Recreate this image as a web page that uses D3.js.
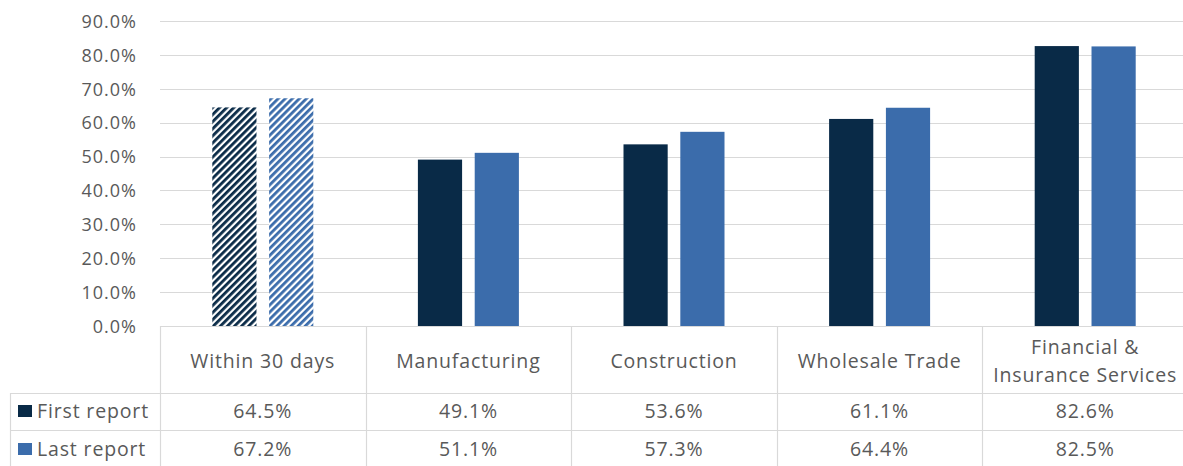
<!DOCTYPE html>
<html>
<head>
<meta charset="utf-8">
<script src="https://cdn.jsdelivr.net/npm/d3@7"></script>
<style>
  html, body { margin: 0; padding: 0; background: #fff; }
  svg { display: block; }
  text { font-family: "Open Sans", "Noto Sans", sans-serif; fill: #595959; }
</style>
</head>
<body>
<svg id="chart" width="1183" height="466"></svg>
<script>
// Chart data
const categories = ["Within 30 days", "Manufacturing", "Construction", "Wholesale Trade", "Financial & Insurance Services"];
const categoryLines = [["Within 30 days"], ["Manufacturing"], ["Construction"], ["Wholesale Trade"], ["Financial &", "Insurance Services"]];
const seriesNames = ["First report", "Last report"];
const firstReport = [64.5, 49.1, 53.6, 61.1, 82.6];
const lastReport = [67.2, 51.1, 57.3, 64.4, 82.5];
const yTicks = [0, 10, 20, 30, 40, 50, 60, 70, 80, 90];
const hatchedCategories = ["Within 30 days"];

const colors = ["#092a47", "#3b6cab"];
const gridColor = "#d9d9d9";
const tableFont = 19.5;
const tableSpacing = 0.85;

const svg = d3.select("#chart");
const W = 1183, H = 466;
const plotLeft = 160, plotRight = 1188;
const yTop = 21, yZero = 326;
const headerBottom = 393, row1Bottom = 430, tableBottom = 470;
const legendLeft = 10;

const x = d3.scaleBand().domain(categories).range([plotLeft, plotRight]).paddingInner(0).paddingOuter(0);
const y = d3.scaleLinear().domain([0, 90]).range([yZero, yTop]);
const groupWidth = 101;
const xs = d3.scaleBand().domain(seriesNames).range([0, groupWidth]).paddingInner(0.2222).paddingOuter(0);

// Hatch patterns for the highlighted category
const defs = svg.append("defs");
colors.forEach((c, i) => {
  const p = defs.append("pattern")
    .attr("id", "hatch" + i)
    .attr("patternUnits", "userSpaceOnUse")
    .attr("width", 5).attr("height", 5)
    .attr("patternTransform", "rotate(45)");
  p.append("rect").attr("width", 5).attr("height", 5).attr("fill", "#fff");
  p.append("rect").attr("width", 2.8).attr("height", 5).attr("fill", c);
});

// Gridlines
svg.append("g")
  .selectAll("line")
  .data(yTicks.filter(t => t > 0))
  .join("line")
  .attr("x1", plotLeft).attr("x2", W)
  .attr("y1", d => Math.round(y(d)) + 0.5).attr("y2", d => Math.round(y(d)) + 0.5)
  .attr("stroke", gridColor).attr("stroke-width", 1.2);

// Y axis labels
const yAxis = d3.axisLeft(y).tickValues(yTicks).tickSize(0).tickPadding(0)
  .tickFormat(d => d3.format(".1f")(d) + "%");
const yg = svg.append("g").attr("transform", "translate(137,0)").call(yAxis);
yg.select(".domain").remove();
yg.selectAll("text")
  .style("font-family", "\"Open Sans\", sans-serif")
  .style("letter-spacing", "1px")
  .attr("font-size", 18).attr("fill", "#595959").attr("dy", "0.35em");

// Bars
const seriesData = [firstReport, lastReport];
seriesData.forEach((vals, si) => {
  svg.append("g")
    .selectAll("rect")
    .data(categories.map((c, i) => ({ c, v: vals[i] })))
    .join("rect")
    .attr("x", d => x(d.c) + (x.bandwidth() - groupWidth) / 2 + xs(seriesNames[si]))
    .attr("width", xs.bandwidth())
    .attr("y", d => y(d.v))
    .attr("height", d => yZero - y(d.v))
    .attr("fill", d => hatchedCategories.includes(d.c) ? `url(#hatch${si})` : colors[si]);
});

// Data table
const tbl = svg.append("g");
const line = (x1, y1, x2, y2) => tbl.append("line")
  .attr("x1", x1).attr("y1", y1).attr("x2", x2).attr("y2", y2)
  .attr("stroke", gridColor).attr("stroke-width", 1.2);

line(plotLeft, yZero + 0.5, W, yZero + 0.5);
line(legendLeft, headerBottom + 0.5, W, headerBottom + 0.5);
line(legendLeft, row1Bottom + 0.5, W, row1Bottom + 0.5);
line(legendLeft + 0.5, headerBottom, legendLeft + 0.5, tableBottom);
categories.forEach(c => line(Math.round(x(c)) + 0.5, yZero, Math.round(x(c)) + 0.5, tableBottom));

const cellText = (xPos, yPos, t, anchor) => tbl.append("text")
  .attr("x", xPos).attr("y", yPos).attr("dy", "0.35em")
  .attr("text-anchor", anchor)
  .attr("font-size", tableFont)
  .style("letter-spacing", tableSpacing + "px")
  .text(t);

// Category header cells
categories.forEach((c, i) => {
  const lines = categoryLines[i];
  const cx = x(c) + x.bandwidth() / 2;
  const lh = 28;
  const cy = 361;
  lines.forEach((t, j) => cellText(cx, cy + (j - (lines.length - 1) / 2) * lh, t, "middle"));
});

// Value rows with legend keys
const rowMid = [411, 449];
seriesNames.forEach((s, si) => {
  const cy = rowMid[si];
  tbl.append("rect").attr("x", 18).attr("y", cy - 6).attr("width", 14).attr("height", 12).attr("fill", colors[si]);
  cellText(37, cy, s, "start");
  categories.forEach((c, i) => {
    cellText(x(c) + x.bandwidth() / 2, cy, d3.format(".1f")(seriesData[si][i]) + "%", "middle");
  });
});
</script>
</body>
</html>
